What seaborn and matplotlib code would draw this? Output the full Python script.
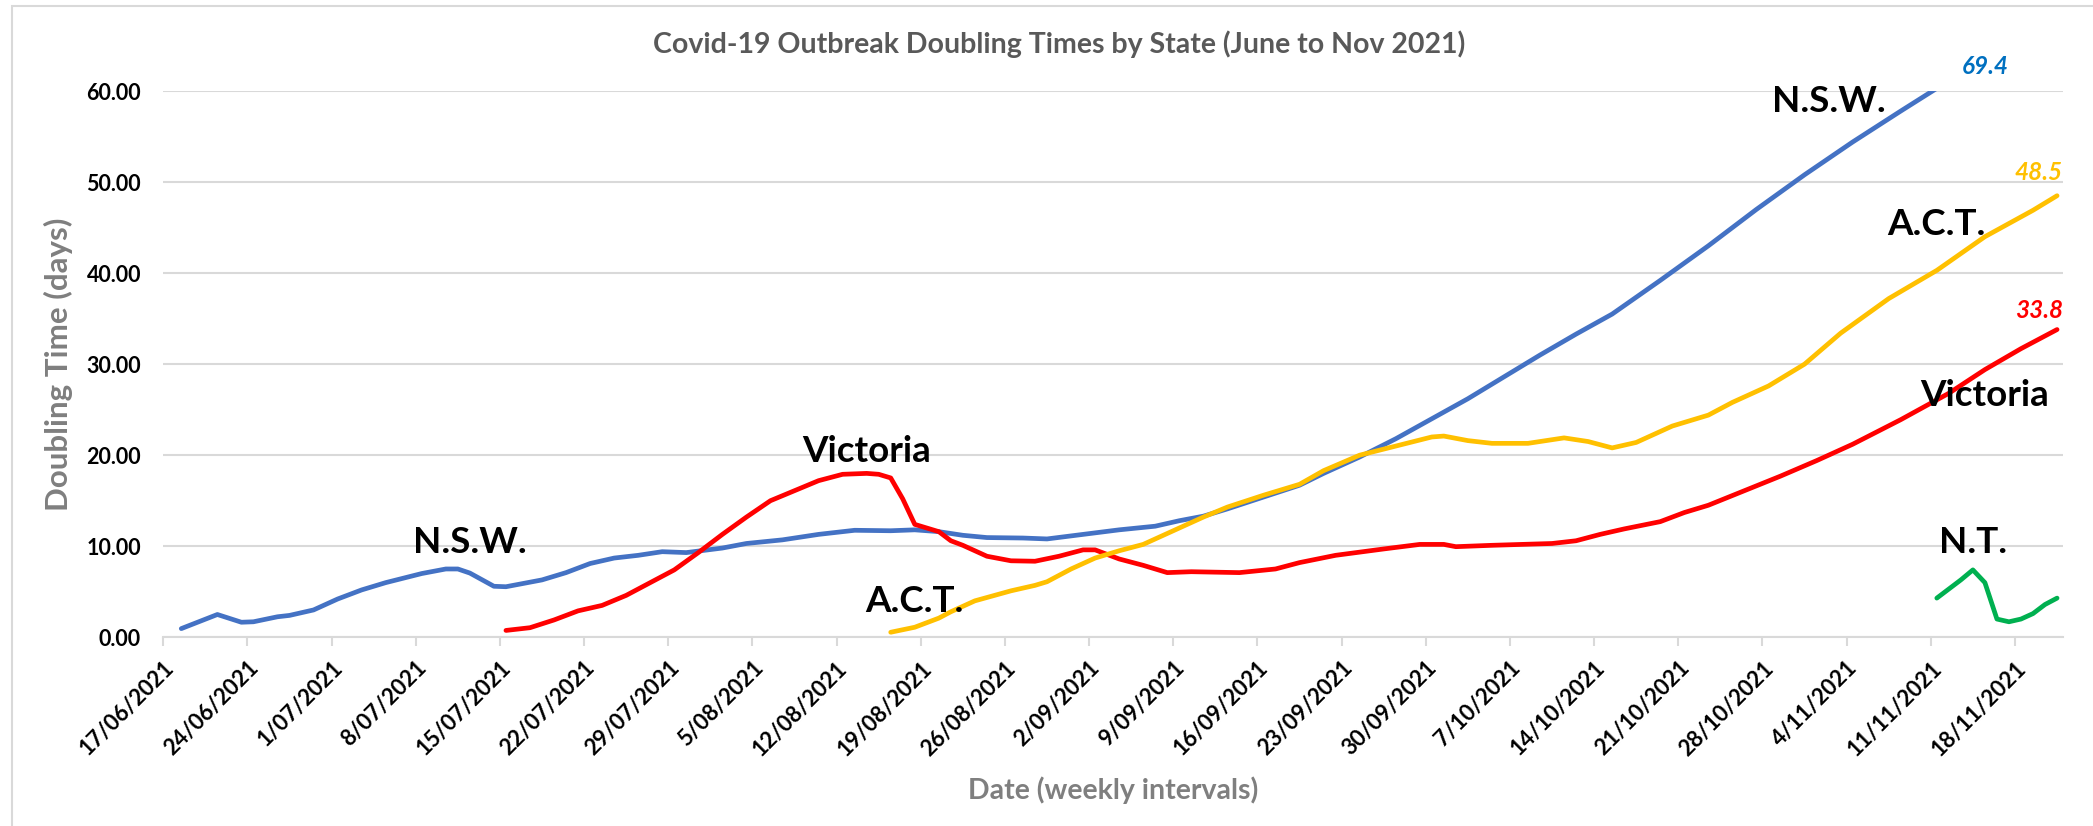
import numpy as np
import pandas as pd
import seaborn as sns
import matplotlib.pyplot as plt
from matplotlib.patches import Rectangle

# doubling times (days), dd/mm of 2021
nsw_dates = ["18/06", "21/06", "23/06", "24/06", "26/06", "27/06", "29/06", "01/07", "03/07", "05/07",
             "08/07", "10/07", "11/07", "12/07", "14/07", "15/07", "18/07", "20/07", "22/07", "24/07",
             "26/07", "28/07", "30/07", "02/08", "04/08", "07/08", "10/08", "13/08", "16/08", "18/08",
             "20/08", "22/08", "24/08", "27/08", "29/08", "01/09", "04/09", "07/09", "09/09", "11/09",
             "13/09", "16/09", "19/09", "21/09", "24/09", "27/09", "30/09", "03/10", "06/10", "09/10",
             "12/10", "15/10", "19/10", "23/10", "27/10", "31/10", "04/11", "08/11", "11/11", "14/11",
             "17/11", "21/11"]
nsw_vals = [0.95, 2.5, 1.65, 1.7, 2.25, 2.4, 3.0, 4.2, 5.2, 6.0,
            7.0, 7.5, 7.5, 7.05, 5.6, 5.55, 6.3, 7.1, 8.1, 8.7,
            9.0, 9.4, 9.3, 9.8, 10.3, 10.7, 11.3, 11.75, 11.7, 11.8,
            11.6, 11.2, 10.95, 10.9, 10.8, 11.3, 11.8, 12.2, 12.8, 13.3,
            14.1, 15.4, 16.7, 18.0, 19.8, 21.8, 24.0, 26.2, 28.6, 31.0,
            33.3, 35.5, 39.2, 43.0, 47.0, 50.8, 54.4, 57.8, 60.3, 62.9,
            65.7, 69.4]

vic_dates = ["15/07", "17/07", "19/07", "21/07", "23/07", "25/07", "27/07", "29/07", "31/07", "02/08",
             "04/08", "06/08", "08/08", "10/08", "12/08", "14/08", "15/08", "16/08", "17/08", "18/08",
             "20/08", "21/08", "22/08", "24/08", "26/08", "28/08", "30/08", "01/09", "02/09", "04/09",
             "06/09", "08/09", "10/09", "14/09", "17/09", "19/09", "22/09", "26/09", "29/09", "01/10",
             "02/10", "05/10", "10/10", "12/10", "14/10", "16/10", "19/10", "21/10", "23/10", "26/10",
             "29/10", "01/11", "04/11", "08/11", "12/11", "15/11", "18/11", "21/11"]
vic_vals = [0.75, 1.05, 1.9, 2.9, 3.5, 4.6, 6.0, 7.4, 9.3, 11.3,
            13.2, 15.0, 16.1, 17.2, 17.9, 18.0, 17.9, 17.5, 15.2, 12.4,
            11.6, 10.6, 10.1, 8.9, 8.4, 8.35, 8.9, 9.6, 9.6, 8.6,
            7.9, 7.1, 7.2, 7.1, 7.5, 8.2, 9.0, 9.7, 10.2, 10.2,
            9.95, 10.1, 10.3, 10.6, 11.3, 11.9, 12.7, 13.7, 14.5, 16.1,
            17.7, 19.4, 21.2, 23.9, 26.8, 29.4, 31.7, 33.8]

act_dates = ["16/08", "18/08", "20/08", "21/08", "23/08", "26/08", "28/08", "29/08", "31/08", "02/09",
             "04/09", "06/09", "08/09", "11/09", "13/09", "16/09", "19/09", "21/09", "24/09", "27/09",
             "30/09", "01/10", "03/10", "05/10", "08/10", "11/10", "13/10", "15/10", "17/10", "20/10",
             "23/10", "25/10", "28/10", "31/10", "03/11", "07/11", "11/11", "15/11", "19/11", "21/11"]
act_vals = [0.55, 1.1, 2.1, 2.8, 4.0, 5.1, 5.7, 6.1, 7.5, 8.7,
            9.5, 10.2, 11.4, 13.2, 14.3, 15.6, 16.8, 18.3, 20.0, 21.0,
            22.0, 22.1, 21.6, 21.3, 21.3, 21.9, 21.5, 20.8, 21.4, 23.2,
            24.4, 25.8, 27.6, 30.0, 33.4, 37.2, 40.3, 44.0, 46.9, 48.5]

nt_dates = ["11/11", "12/11", "13/11", "14/11", "15/11", "16/11", "17/11", "18/11", "19/11", "20/11", "21/11"]
nt_vals = [4.3, 5.3, 6.3, 7.4, 6.0, 2.0, 1.7, 2.0, 2.6, 3.6, 4.3]

states = ["N.S.W.", "Victoria", "A.C.T.", "N.T."]
colors = ["#4472C4", "#FF0000", "#FFC000", "#00B050"]

tick_labels = ["17/06/2021", "24/06/2021", "1/07/2021", "8/07/2021", "15/07/2021", "22/07/2021",
               "29/07/2021", "5/08/2021", "12/08/2021", "19/08/2021", "26/08/2021", "2/09/2021",
               "9/09/2021", "16/09/2021", "23/09/2021", "30/09/2021", "7/10/2021", "14/10/2021",
               "21/10/2021", "28/10/2021", "4/11/2021", "11/11/2021", "18/11/2021"]

# (text, date, y) for the black state names
name_labels = [("N.S.W.", "12/07", 10.4), ("Victoria", "14/08", 20.4), ("A.C.T.", "18/08", 3.9),
               ("N.S.W.", "02/11", 58.8), ("A.C.T.", "11/11", 45.3), ("Victoria", "15/11", 26.6),
               ("N.T.", "14/11", 10.4)]
# final values shown at the end of each line
end_labels = [("69.4", "15/11", 62.7, "#0070C0", "center"),
              ("48.5", "22/11", 51.1, "#FFC000", "right"),
              ("33.8", "22/11", 35.9, "#FF0000", "right")]


def to_date(s):
    return pd.to_datetime(s + "/2021", format="%d/%m/%Y")


frames = []
for name, d, v in zip(states, [nsw_dates, vic_dates, act_dates, nt_dates], [nsw_vals, vic_vals, act_vals, nt_vals]):
    frames.append(pd.DataFrame({"date": [to_date(x) + pd.Timedelta(hours=12) for x in d],
                                "days": v, "state": name}))
data = pd.concat(frames, ignore_index=True)

sns.set_theme(style="white")
plt.rcParams['font.family'] = ['Lato', 'DejaVu Sans']
plt.rcParams['font.weight'] = 'bold'

fig = plt.figure(figsize=(20.93, 8.26), dpi=100)
fig.patches.append(Rectangle((12 / 2093, -0.05), 1.1, 1.05 - 6 / 826, transform=fig.transFigure,
                             fill=False, edgecolor="#D9D9D9", linewidth=1.5))
ax = fig.add_axes([0.0780, 0.2285, 0.9077, 0.6613])

sns.lineplot(data=data, x="date", y="days", hue="state", hue_order=states, palette=colors,
             estimator=None, linewidth=3.4, legend=False, ax=ax)

ax.set_ylim(0, 60)
ax.set_xlim(to_date("17/06"), to_date("22/11"))
ax.set_yticks(np.arange(0, 61, 10))
ax.set_yticklabels([f"{t:.2f}" for t in np.arange(0, 61, 10)], fontsize=15.5, fontweight="bold", color="black")
ax.yaxis.grid(True, color="#D9D9D9", linewidth=1.5)
ax.set_axisbelow(True)
ax.tick_params(axis="y", length=0, pad=16)

ticks = [pd.to_datetime(t, format="%d/%m/%Y") for t in tick_labels]
ax.set_xticks(ticks)
ax.set_xticklabels(tick_labels, rotation=45, ha="right", va="top", rotation_mode="anchor",
                   fontsize=16, fontweight="bold", color="black")
ax.tick_params(axis="x", direction="out", length=6.5, width=1.5, color="#D9D9D9", pad=8, bottom=True)

for s in ["top", "right", "left"]:
    ax.spines[s].set_visible(False)
ax.spines["bottom"].set_color("#D9D9D9")
ax.spines["bottom"].set_linewidth(1.5)

ax.set_xlabel("Date (weekly intervals)", fontsize=20.5, fontweight="bold", color="#7F7F7F", labelpad=12)
ax.set_ylabel("Doubling Time (days)", fontsize=22.5, fontweight="bold", color="#7F7F7F", labelpad=10)

for txt, d, y in name_labels:
    ax.text(to_date(d) + pd.Timedelta(hours=12), y, txt, fontsize=26.5, fontweight="bold",
            color="black", ha="center", va="center")
for txt, d, y, c, ha in end_labels:
    ax.text(to_date(d) + pd.Timedelta(hours=12) if ha == "center" else to_date(d), y, txt,
            fontsize=17.5, fontweight="bold", style="italic", color=c, ha=ha, va="center", clip_on=False)

fig.text(0.506, 0.947, "Covid-19 Outbreak Doubling Times by State (June to Nov 2021)",
         fontsize=20.5, fontweight="bold", color="#595959", ha="center", va="center")

fig.savefig("out.png", dpi=100)
